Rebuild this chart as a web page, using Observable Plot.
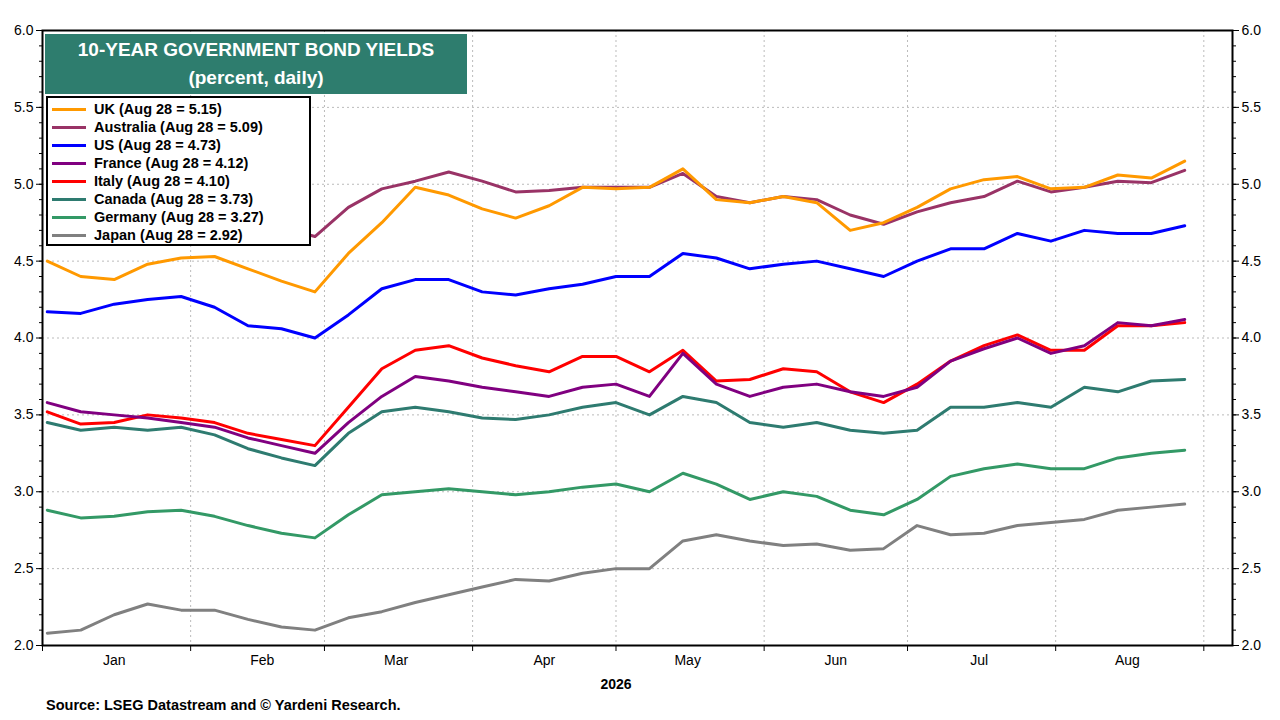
<!DOCTYPE html>
<html><head><meta charset="utf-8">
<script src="https://cdn.jsdelivr.net/npm/d3@7"></script>
<script src="https://cdn.jsdelivr.net/npm/@observablehq/plot@0.6"></script>
<style>
body{margin:0;background:#fff;font-family:"Liberation Sans",Arial,sans-serif;}
#wrap{position:relative;width:1280px;height:720px;}
#title{position:absolute;left:45px;top:34px;width:422px;height:60px;background:#2E7D6E;color:#fff;font-weight:bold;font-size:19px;text-align:center;line-height:28px;padding-top:2px;box-sizing:border-box;}
#legend{position:absolute;left:46px;top:96px;width:265px;height:150px;background:#fff;border:2px solid #000;box-sizing:border-box;padding:2px 0 0 4px;}
.li{display:flex;align-items:center;height:18px;font-size:14.5px;font-weight:bold;color:#000;}
.sw{width:34px;height:3px;margin-right:8px;}
#src{position:absolute;left:46px;top:697px;font-size:14.5px;font-weight:bold;}
</style></head><body>
<div id="wrap"><div id="chart"></div>
<div id="title">10-YEAR GOVERNMENT BOND YIELDS<br>(percent, daily)</div>
<div id="legend"></div>
<div id="src">Source: LSEG Datastream and © Yardeni Research.</div>
</div>
<script>
const dates = ["2026-01-02","2026-01-09","2026-01-16","2026-01-23","2026-01-30","2026-02-06","2026-02-13","2026-02-20","2026-02-27","2026-03-06","2026-03-13","2026-03-20","2026-03-27","2026-04-03","2026-04-10","2026-04-17","2026-04-24","2026-05-01","2026-05-08","2026-05-15","2026-05-22","2026-05-29","2026-06-05","2026-06-12","2026-06-19","2026-06-26","2026-07-03","2026-07-10","2026-07-17","2026-07-24","2026-07-31","2026-08-07","2026-08-14","2026-08-21","2026-08-28"];
const uk = [4.50,4.40,4.38,4.48,4.52,4.53,4.45,4.37,4.30,4.55,4.75,4.98,4.93,4.84,4.78,4.86,4.98,4.97,4.98,5.10,4.90,4.88,4.92,4.88,4.70,4.75,4.85,4.97,5.03,5.05,4.97,4.98,5.06,5.04,5.15];
const australia = [4.80,4.75,4.75,4.80,4.82,4.80,4.75,4.72,4.66,4.85,4.97,5.02,5.08,5.02,4.95,4.96,4.98,4.98,4.98,5.07,4.92,4.88,4.92,4.90,4.80,4.74,4.82,4.88,4.92,5.02,4.95,4.98,5.02,5.01,5.09];
const us = [4.17,4.16,4.22,4.25,4.27,4.20,4.08,4.06,4.00,4.15,4.32,4.38,4.38,4.30,4.28,4.32,4.35,4.40,4.40,4.55,4.52,4.45,4.48,4.50,4.45,4.40,4.50,4.58,4.58,4.68,4.63,4.70,4.68,4.68,4.73];
const france = [3.58,3.52,3.50,3.48,3.45,3.42,3.35,3.30,3.25,3.45,3.62,3.75,3.72,3.68,3.65,3.62,3.68,3.70,3.62,3.90,3.70,3.62,3.68,3.70,3.65,3.62,3.68,3.85,3.93,4.00,3.90,3.95,4.10,4.08,4.12];
const italy = [3.52,3.44,3.45,3.50,3.48,3.45,3.38,3.34,3.30,3.55,3.80,3.92,3.95,3.87,3.82,3.78,3.88,3.88,3.78,3.92,3.72,3.73,3.80,3.78,3.65,3.58,3.70,3.85,3.95,4.02,3.92,3.92,4.08,4.08,4.10];
const canada = [3.45,3.40,3.42,3.40,3.42,3.37,3.28,3.22,3.17,3.38,3.52,3.55,3.52,3.48,3.47,3.50,3.55,3.58,3.50,3.62,3.58,3.45,3.42,3.45,3.40,3.38,3.40,3.55,3.55,3.58,3.55,3.68,3.65,3.72,3.73];
const germany = [2.88,2.83,2.84,2.87,2.88,2.84,2.78,2.73,2.70,2.85,2.98,3.00,3.02,3.00,2.98,3.00,3.03,3.05,3.00,3.12,3.05,2.95,3.00,2.97,2.88,2.85,2.95,3.10,3.15,3.18,3.15,3.15,3.22,3.25,3.27];
const japan = [2.08,2.10,2.20,2.27,2.23,2.23,2.17,2.12,2.10,2.18,2.22,2.28,2.33,2.38,2.43,2.42,2.47,2.50,2.50,2.68,2.72,2.68,2.65,2.66,2.62,2.63,2.78,2.72,2.73,2.78,2.80,2.82,2.88,2.90,2.92];
const names = ["UK","Australia","US","France","Italy","Canada","Germany","Japan"];
const labels = ["UK (Aug 28 = 5.15)","Australia (Aug 28 = 5.09)","US (Aug 28 = 4.73)","France (Aug 28 = 4.12)","Italy (Aug 28 = 4.10)","Canada (Aug 28 = 3.73)","Germany (Aug 28 = 3.27)","Japan (Aug 28 = 2.92)"];
const colors = ["#FF9900","#993366","#0000FF","#800080","#FF0000","#2E7B70","#339966","#808080"];
const monthLabels = ["Jan","Feb","Mar","Apr","May","Jun","Jul","Aug"];
const yTicks = [2.0,2.5,3.0,3.5,4.0,4.5,5.0,5.5,6.0];

const seriesVals = [uk,australia,us,france,italy,canada,germany,japan];
const parse = d3.utcParse("%Y-%m-%d");
const rows = [];
seriesVals.forEach((vals,i)=>vals.forEach((v,j)=>rows.push({name:names[i],date:parse(dates[j]),v})));
const drawOrder = names.slice().reverse();
const monthStarts = d3.range(1,10).map(m=>new Date(Date.UTC(2026,m-1,1)));
const midMonths = d3.range(1,9).map(m=>new Date(Date.UTC(2026,m-1,16)));
const minor = d3.range(20,61).map(x=>x/10);

const plot = Plot.plot({
  width:1280,height:720,
  marginLeft:42,marginRight:48,marginTop:30,marginBottom:75,
  style:{fontFamily:"Liberation Sans, Arial, sans-serif",fontSize:"14px",color:"#000"},
  x:{type:"utc",domain:[new Date(Date.UTC(2026,0,1)),new Date(Date.UTC(2026,8,7))]},
  y:{domain:[2,6]},
  marks:[
    Plot.gridX(monthStarts.slice(1),{stroke:"#bbb",strokeDasharray:"2,3",strokeOpacity:1}),
    Plot.gridY(yTicks.slice(1,-1),{stroke:"#bbb",strokeDasharray:"2,3",strokeOpacity:1}),
    Plot.axisY(yTicks,{anchor:"left",tickFormat:d3.format(".1f"),tickSize:6,label:null}),
    Plot.axisY(yTicks,{anchor:"right",tickFormat:d3.format(".1f"),tickSize:6,label:null}),
    Plot.axisY(minor,{anchor:"left",tickFormat:()=>"",tickSize:3,label:null}),
    Plot.axisY(minor,{anchor:"right",tickFormat:()=>"",tickSize:3,label:null}),
    Plot.axisX(monthStarts,{tickFormat:()=>"",tickSize:6,label:null}),
    Plot.axisX(midMonths,{tickFormat:(d,i)=>monthLabels[i],tickSize:0,tickPadding:10,label:null}),
    Plot.text(["2026"],{x:()=>new Date(Date.UTC(2026,4,1)),frameAnchor:"bottom",dy:43,fontWeight:"bold",fontSize:14}),
    ...drawOrder.map(n=>Plot.line(rows.filter(r=>r.name===n),{x:"date",y:"v",stroke:colors[names.indexOf(n)],strokeWidth:3})),
    Plot.frame({stroke:"#000",strokeWidth:2})
  ]
});
document.getElementById("chart").append(plot);
const lg = document.getElementById("legend");
labels.forEach((l,i)=>{const d=document.createElement("div");d.className="li";d.innerHTML=`<span class="sw" style="background:${colors[i]}"></span>${l}`;lg.append(d);});
</script></body></html>
